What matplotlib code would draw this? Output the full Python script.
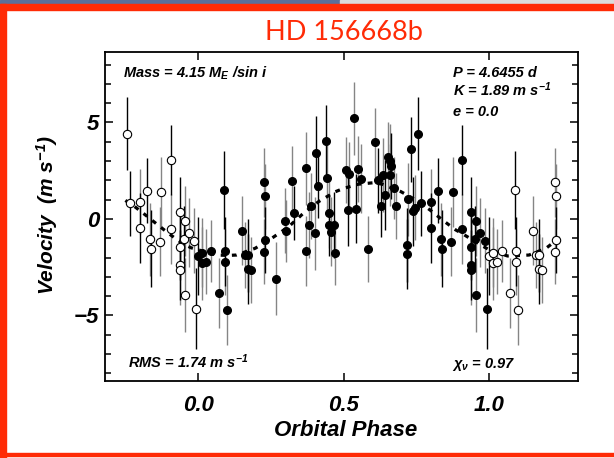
import matplotlib
matplotlib.use("Agg")
import matplotlib.pyplot as plt
import matplotlib.font_manager as fm
from matplotlib.patches import Rectangle
import numpy as np

# pick a condensed bold sans if it is there
names = {f.name for f in fm.fontManager.ttflist}
fam = "Liberation Sans Narrow" if "Liberation Sans Narrow" in names else "Liberation Sans"
narrow = fam == "Liberation Sans Narrow"

plt.rcParams["mathtext.fontset"] = "custom"
plt.rcParams["mathtext.rm"] = fam + ":bold:italic"
plt.rcParams["mathtext.it"] = fam + ":bold:italic"
plt.rcParams["mathtext.bf"] = fam + ":bold:italic"

# folded radial velocities, phase 0..1
phase = [0.000, 0.014, 0.012, 0.028, 0.043, 0.071, 0.089, 0.092, 0.092, 0.098,
         0.152, 0.160, 0.172, 0.170, 0.181, 0.226, 0.230, 0.228, 0.226, 0.267,
         0.297, 0.302, 0.322, 0.330, 0.370, 0.372, 0.381, 0.386, 0.400, 0.406,
         0.412, 0.438, 0.442, 0.450, 0.451, 0.457, 0.468, 0.470, 0.509, 0.515,
         0.518, 0.535, 0.543, 0.550, 0.561, 0.583, 0.609, 0.618, 0.629, 0.635,
         0.642, 0.651, 0.658, 0.661, 0.658, 0.672, 0.681, 0.716, 0.716, 0.722,
         0.732, 0.738, 0.745, 0.754, 0.765, 0.800, 0.800, 0.825, 0.833, 0.838,
         0.868, 0.874, 0.906, 0.906, 0.938, 0.937, 0.936, 0.936, 0.954, 0.952,
         0.968, 0.954, 0.986, 0.993]
vel = [-1.92, -1.74, -2.30, -2.21, -1.68, -3.84, 1.50, -1.68, -2.22, -4.72,
       -0.60, -1.88, -1.88, -2.60, -2.64, 1.90, 1.17, -1.09, -1.69, -3.10,
       -0.09, -0.61, 1.97, 0.31, 2.63, -1.65, -0.31, 0.68, -0.74, 3.42,
       1.73, 4.02, 2.11, 0.31, -0.31, -0.66, -0.31, -1.74, 2.54, 0.49,
       2.31, 5.22, 0.53, 2.58, 2.09, -1.57, 3.97, 2.00, 0.67, 2.28,
       1.24, 3.21, 3.01, 2.76, 2.28, 1.59, 0.67, -1.35, -1.81, 1.02,
       3.61, 0.40, 0.59, 4.42, 0.81, 0.90, -0.47, 1.47, -1.05, -1.54,
       -1.17, 1.40, 3.06, -0.52, 0.38, -1.45, -2.38, -2.64, -0.10, -1.04,
       -0.71, -3.94, -1.12, -4.65]
err = [2.0, 1.8, 1.9, 1.7, 1.6, 1.8, 2.0, 1.8, 1.7, 1.8,
       1.8, 1.7, 1.9, 1.8, 1.7, 1.8, 1.7, 1.7, 1.7, 1.9,
       1.7, 1.6, 1.8, 1.4, 1.9, 1.8, 1.7, 1.7, 1.9, 1.9,
       1.7, 1.9, 1.8, 1.8, 1.6, 1.8, 1.7, 1.7, 1.7, 1.9,
       1.7, 1.9, 1.8, 1.7, 1.8, 1.7, 1.8, 1.7, 1.6, 1.9,
       1.8, 1.8, 1.9, 1.7, 1.6, 1.6, 1.7, 1.9, 1.8, 1.9,
       1.7, 1.8, 1.7, 1.9, 1.7, 1.7, 1.8, 1.7, 1.9, 2.0,
       1.8, 1.8, 1.8, 1.8, 1.8, 1.7, 1.8, 1.8, 1.8, 1.7,
       1.8, 1.9, 1.7, 2.1]
# 1 = black error bar, 0 = grey error bar
dark = [1, 0, 0, 0, 0, 0, 1, 1, 0, 0,
        0, 0, 1, 1, 0, 0, 0, 1, 0, 0,
        0, 0, 0, 1, 0, 0, 0, 0, 0, 1,
        1, 1, 0, 0, 1, 0, 1, 0, 0, 1,
        0, 0, 1, 0, 0, 0, 0, 1, 1, 0,
        1, 0, 0, 1, 0, 0, 0, 1, 1, 0,
        1, 1, 0, 1, 1, 0, 1, 1, 0, 1,
        0, 0, 1, 0, 1, 1, 1, 0, 0, 1,
        0, 0, 0, 1]

# dashed orbit fit
fit_phase = [-0.25, -0.218, -0.189, -0.160, -0.135, -0.109, -0.082, -0.055, -0.025, 0.0,
             0.063, 0.104, 0.132, 0.196, 0.253, 0.311, 0.362, 0.414, 0.471, 0.501,
             0.55, 0.604, 0.633, 0.696, 0.758, 0.804, 0.839, 0.885, 0.903, 0.971,
             1.0, 1.063, 1.137, 1.195, 1.240, 1.25]
fit_vel = [0.96, 0.64, 0.30, -0.05, -0.35, -0.66, -0.97, -1.26, -1.49, -1.60,
           -1.87, -1.89, -1.87, -1.52, -1.00, -0.40, 0.30, 0.90, 1.41, 1.59,
           1.80, 1.88, 1.80, 1.42, 0.90, 0.38, -0.05, -0.57, -0.72, -1.35,
           -1.60, -1.92, -1.87, -1.52, -1.00, -0.93]

xticks = [0.0, 0.5, 1.0]
xticklabels = ["0.0", "0.5", "1.0"]
yticks = [-5, 0, 5]

ph = np.array(phase)
v = np.array(vel)
e = np.array(err)
d = np.array(dark, dtype=bool)

# repeated cycle drawn with open symbols
lo = ph - 1 >= -0.25
hi = ph + 1 <= 1.25
oph = np.concatenate([ph[lo] - 1, ph[hi] + 1])
ov = np.concatenate([v[lo], v[hi]])
oe = np.concatenate([e[lo], e[hi]])
od = np.concatenate([d[lo], d[hi]])

fig = plt.figure(figsize=(6.14, 4.58), dpi=100)
W, H = 614.0, 458.0

# slide frame
red = "#ff2b06"
fig.patches.append(Rectangle((0, 1 - 4 / H), 340 / W, 4 / H, transform=fig.transFigure,
                             color="#5b6f9a", zorder=0))
fig.patches.append(Rectangle((340 / W, 1 - 4 / H), 1 - 340 / W, 4 / H,
                             transform=fig.transFigure, color="#dcdcdc", zorder=0))
fig.patches.append(Rectangle((0, 1 - 9.5 / H), 1, 5.5 / H, transform=fig.transFigure,
                             color=red, zorder=0))
fig.patches.append(Rectangle((0, 0), 6 / W, 1 - 4 / H, transform=fig.transFigure,
                             color=red, zorder=0))
fig.patches.append(Rectangle((0, 1 - 456 / H), 1, 3.5 / H, transform=fig.transFigure,
                             color=red, zorder=0))

ax = fig.add_axes([105 / W, 1 - 381 / H, 473 / W, 329.3 / H])

grey = "#858585"
for xs, ys, es, ds in [(ph, v, e, d), (oph, ov, oe, od)]:
    ax.errorbar(xs[~ds], ys[~ds], yerr=es[~ds], fmt="none", ecolor=grey,
                elinewidth=1.0, capsize=0, zorder=2)
    ax.errorbar(xs[ds], ys[ds], yerr=es[ds], fmt="none", ecolor="black",
                elinewidth=1.0, capsize=0, zorder=2)

ax.plot(fit_phase, fit_vel, color="black", lw=2.3, dashes=(1.5, 2.0), zorder=3)

ax.plot(ph, v, "o", ms=5.5, mfc="black", mec="black", zorder=4)
ax.plot(oph, ov, "o", ms=6.0, mfc="white", mec="black", mew=0.8, zorder=4)

ax.set_xlim(-0.32, 1.305)
ax.set_ylim(-8.4, 8.67)
ax.set_xticks(xticks)
ax.set_xticklabels(xticklabels)
ax.set_yticks(yticks)
ax.set_yticks(np.arange(-8, 9, 1), minor=True)
ax.set_yticklabels(["\u22125", "0", "5"])

tfs = 17 if narrow else 16
ax.tick_params(axis="both", which="major", direction="in", top=True, right=True,
               length=6, width=1.1)
ax.tick_params(axis="y", which="minor", direction="in", right=True, length=4, width=1.1)
ax.tick_params(axis="x", pad=10)
ax.tick_params(axis="y", pad=4)
for lab in ax.get_xticklabels() + ax.get_yticklabels():
    lab.set_family(fam)
    lab.set_weight("bold")
    lab.set_style("italic")
    lab.set_fontsize(tfs)
for s in ax.spines.values():
    s.set_linewidth(1.3)

lab_kw = dict(family=fam, weight="bold", style="italic")
fig.text(346 / W, 1 - 430 / H, "Orbital Phase", ha="center", va="center",
         fontsize=16, **lab_kw)
fig.text(47 / W, 1 - 215 / H, "Velocity  (m s$^{-1}$)", ha="center", va="center",
         rotation=90, fontsize=15, **lab_kw)

fig.text(344 / W, 1 - 33 / H, "HD 156668b", ha="center", va="center",
         family="Lato", fontsize=19.5, color=red)

ifs = 12 if narrow else 10.5
in_kw = dict(family=fam, weight="bold", style="italic", fontsize=ifs,
             transform=ax.transAxes, va="baseline")
ax.text(0.038, 0.920, "Mass = 4.15 $M_E$ /sin $i$", **in_kw)
ax.text(0.736, 0.923, "P = 4.6455 d", **in_kw)
ax.text(0.736, 0.866, "K = 1.89 m s$^{-1}$", **in_kw)
ax.text(0.736, 0.806, "e = 0.0", **in_kw)
ax.text(0.049, 0.040, "RMS = 1.74 m s$^{-1}$", **in_kw)
ax.text(0.734, 0.039, r"$\chi_\nu$ = 0.97", **in_kw)

fig.savefig("out.png", dpi=100, facecolor="white")
